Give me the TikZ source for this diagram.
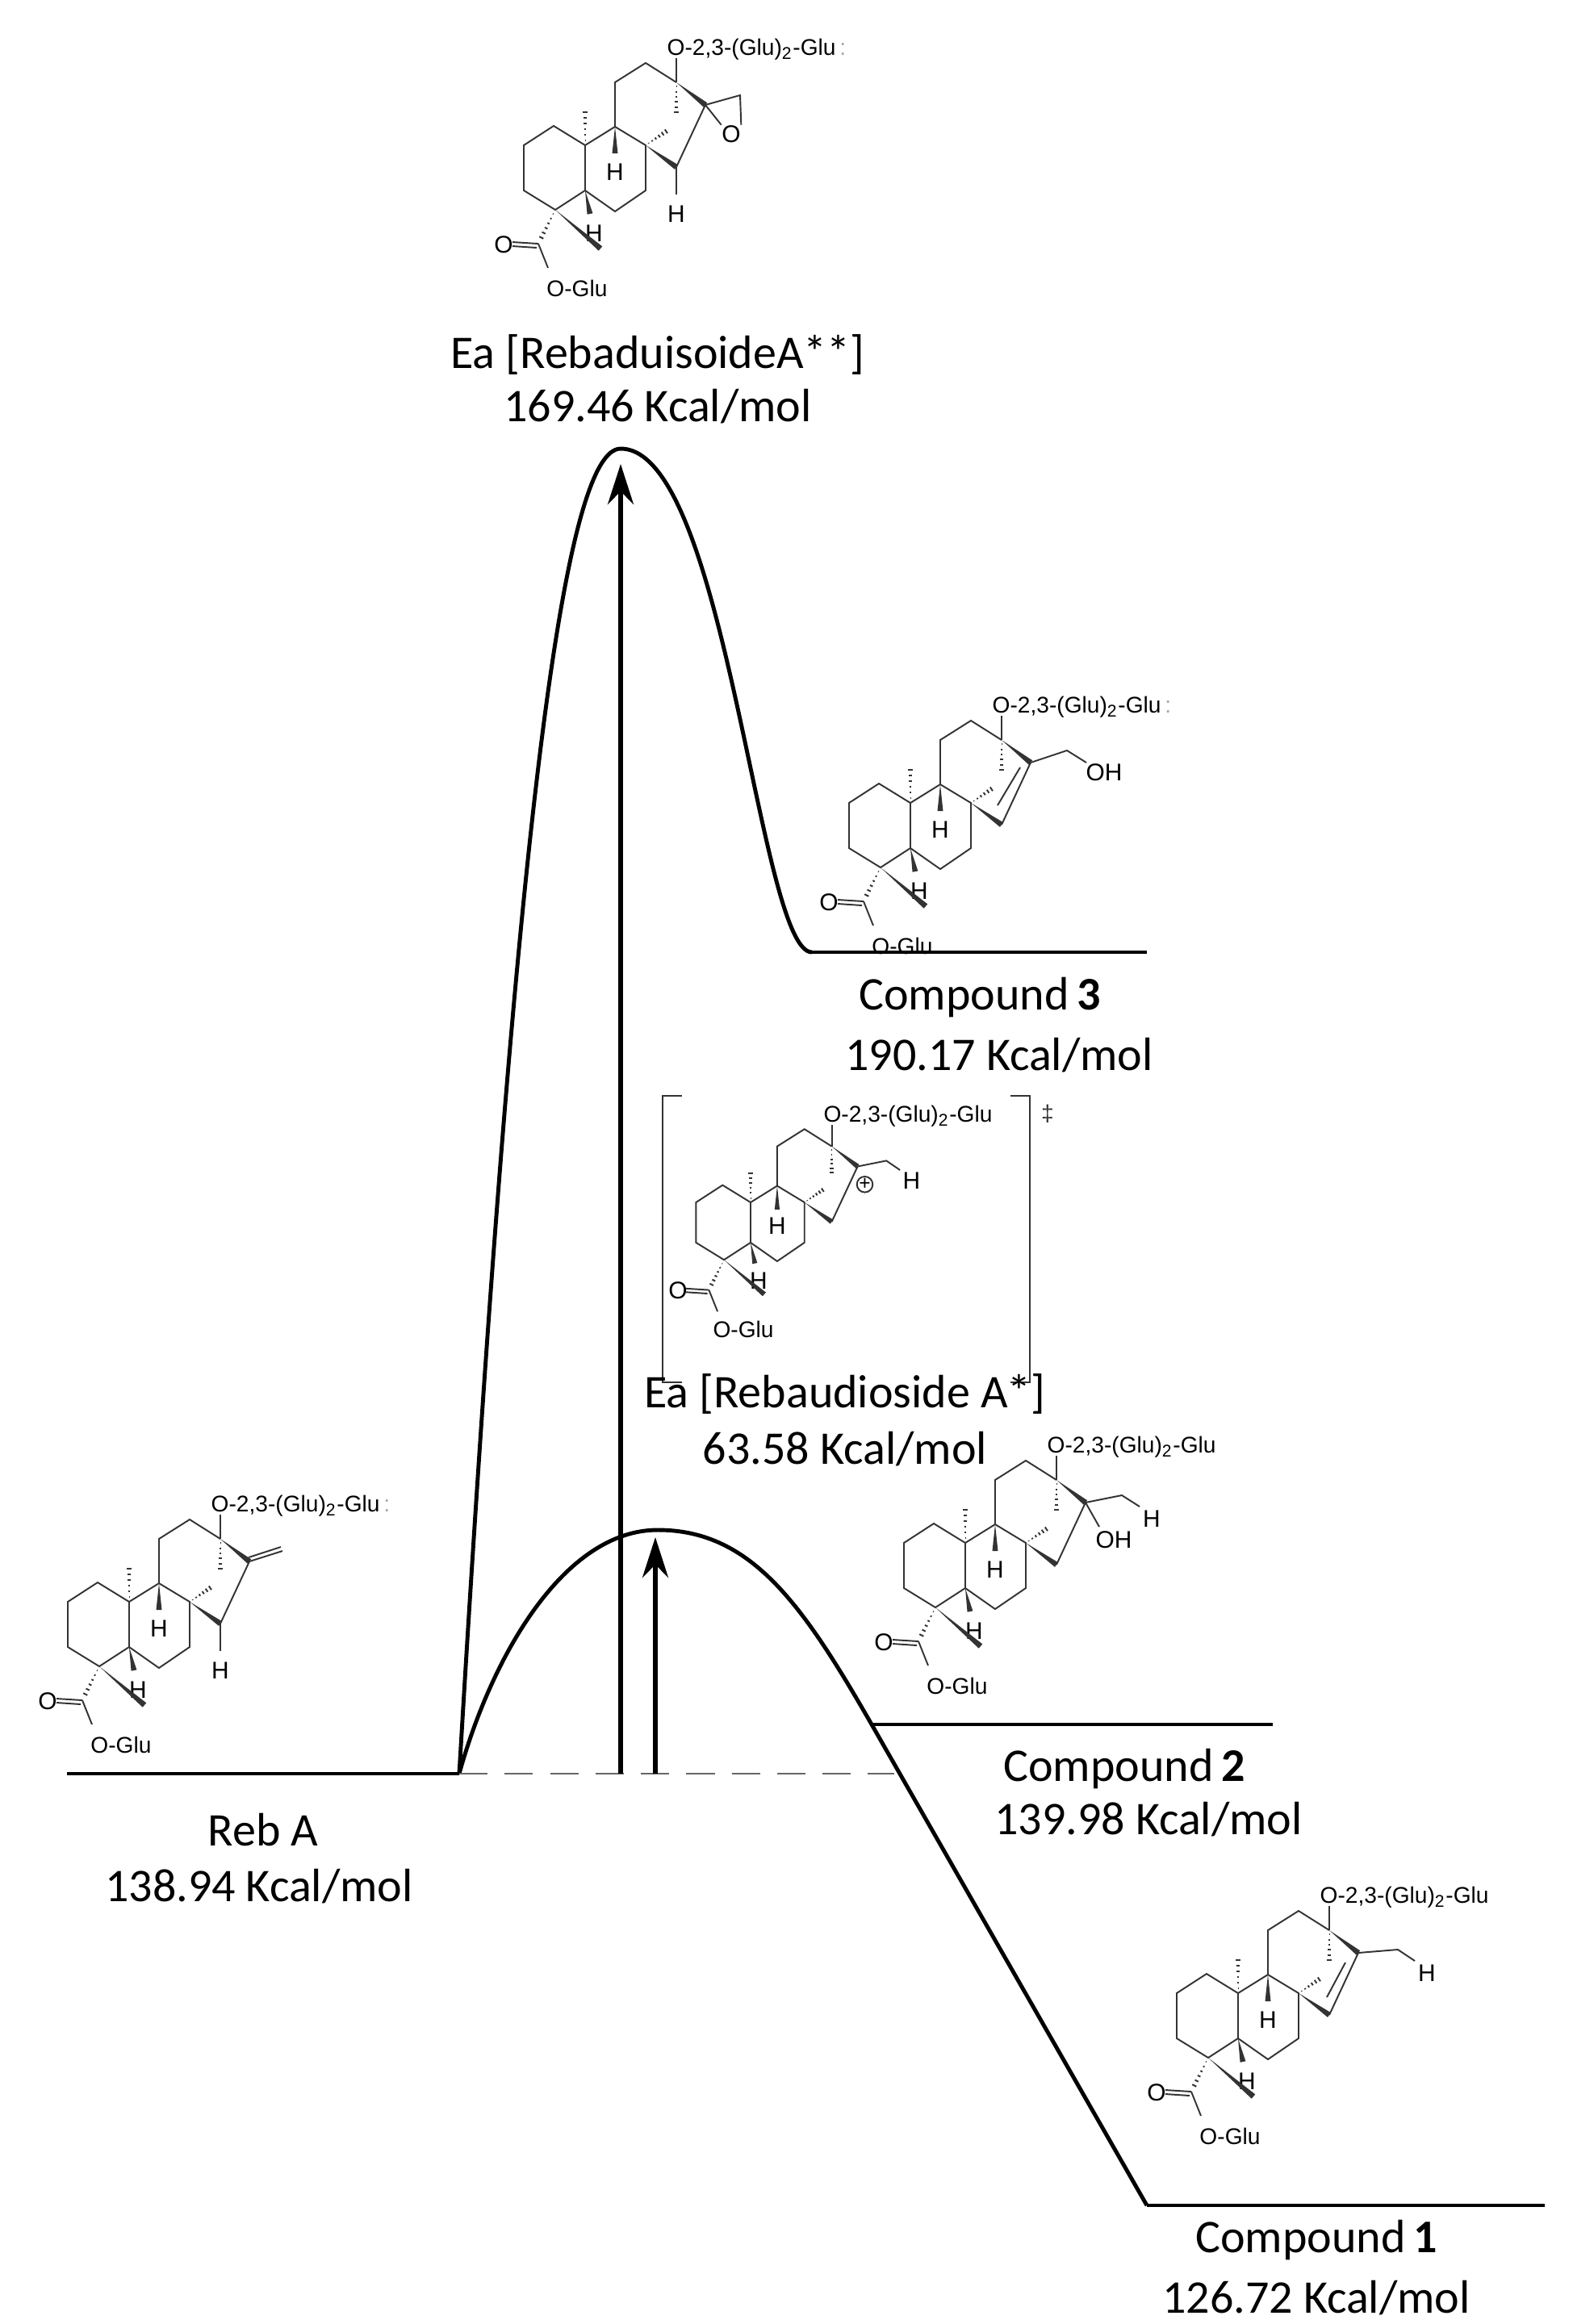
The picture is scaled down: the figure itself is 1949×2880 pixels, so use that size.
\documentclass[tikz,border=0pt]{standalone}
\usepackage{fontspec}
\setmainfont{Carlito}
\newfontfamily\molfont{Liberation Sans}
\usetikzlibrary{calc,arrows.meta}
\definecolor{bondc}{HTML}{333333}
\tikzset{
  bond/.style={draw=bondc,line width=0.55pt},
  atom/.style={font=\molfont\fontsize{8.5}{9}\selectfont,inner sep=0pt,text=black},
  glu/.style={font=\molfont\fontsize{8}{9}\selectfont,inner sep=0pt,text=black},
  lvl/.style={line width=1.4pt},
  curve/.style={line width=1.4pt},
  lab/.style={font=\fontsize{16.5}{18}\selectfont,inner sep=0pt},
  arr/.style={line width=1.6pt,-{Stealth[length=5mm,width=3.2mm]}}
}
\newcommand\wdg[2]{\fill[bondc] (#1) -- ($(#2)!0.035cm!90:(#1)$) -- ($(#2)!0.035cm!-90:(#1)$) -- cycle;}
\newcommand\hsh[2]{\foreach \t in {0.12,0.26,...,0.95}{\draw[bond] ($(#1)!\t!(#2)!{\t*0.035cm}!90:(#2)$) -- ($(#1)!\t!(#2)!{\t*0.035cm}!-90:(#2)$);}}
\newcommand\skel[1]{%
  \coordinate (c10) at (0,0); \coordinate (c1) at (-39,-24); \coordinate (c2) at (-76,0);
  \coordinate (c3) at (-76,56); \coordinate (c4) at (-37,80); \coordinate (c5) at (0,56);
  \coordinate (c9) at (37,-23); \coordinate (c8) at (75,0); \coordinate (c7) at (75,56);
  \coordinate (c6) at (37,82); \coordinate (c11) at (37,-78); \coordinate (c12) at (75,-102);
  \coordinate (c13) at (113,-78); \coordinate (c16) at (149,-50); \coordinate (c15) at (113,27);
  \coordinate (me10) at (0,-50); \coordinate (h9) at (37,10); \coordinate (h5) at (6,85);
  \coordinate (me4) at (19,128); \coordinate (cc) at (-58,122); \coordinate (oo) at (-46,152);
  \coordinate (b13) at (113,-33); \coordinate (b8) at (106,-21); \coordinate (o13) at (113,-108);
  \draw[bond] (c10)--(c1)--(c2)--(c3)--(c4)--(c5)--(c10)--(c9)--(c8)--(c7)--(c6)--(c5);
  \draw[bond] (c9)--(c11)--(c12)--(c13);
  \hsh{c10}{me10}
  \wdg{c9}{h9} \node[atom] (hh9) at (37,33) {H};
  \wdg{c5}{h5} \node[atom] (hh5) at (11,109) {H};
  \wdg{c4}{me4}
  \hsh{c4}{cc}
  \draw[bond] (cc) -- (-90,120);
  \draw[bond] ($(cc)+(-2,5)$) -- (-90,125);
  \node[atom] (ocarb) at (-101,123) {O};
  \draw[bond] (cc) -- (oo);
  \node[glu] (oglu) at (-10,177) {O-Glu};
  \hsh{c13}{b13} \hsh{c8}{b8}
  \wdg{c13}{c16} \wdg{c8}{c15}
  \draw[bond] (c15) -- (c16);
  \draw[bond] (c13) -- (o13);
  \node[glu,anchor=base west] (gl) at (101,-112) {O-2,3-(Glu)\textsubscript{2}-Glu#1};
}
\newcommand\dotc{\textcolor{gray!70}{\,:}}
\begin{document}
\begin{tikzpicture}[x=0.01cm,y=-0.01cm]
\useasboundingbox (0,0) rectangle (1949,2880);

% ---- Reb A
\begin{scope}[shift={(160,1985)}]
  \skel{\dotc}
  \draw[bond] (c16) -- (190,-63);
  \draw[bond] ($(c16)+(-1,-5)$) -- (188,-68);
  \draw[bond] (c15) -- (113,61); \node[atom] (h15) at (113,85) {H};
\end{scope}
% ---- Top (epoxide)
\begin{scope}[shift={(725,180)}]
  \skel{\dotc}
  \coordinate (ep) at (192,-62); \node[atom] (epo) at (181,-14) {O};
  \draw[bond] (c16) -- (ep) -- (epo.north east);
  \draw[bond] (c16) -- (epo.north west);
  \draw[bond] (c15) -- (113,61); \node[atom] (h15) at (113,85) {H};
\end{scope}
% ---- Compound 3
\begin{scope}[shift={(1128,995)}]
  \skel{\dotc}
  \draw[bond] (108,3) -- (136,-44);
  \draw[bond] (c16) -- (194,-65) -- (218,-50);
  \node[atom,anchor=west] (oh3) at (217,-38) {OH};
\end{scope}
% ---- TS
\begin{scope}[shift={(930,1490)},scale=0.89]
  \skel{}
  \draw[bond] (c16) -- (189,-58) -- (208,-45);
  \node[atom] (hts) at (224,-30) {H};
  \draw[bond] (159,-25) circle (11);
  \node[atom,font=\molfont\fontsize{7}{8}\selectfont] (plus) at (159,-25) {+};
\end{scope}
\draw[bond,line width=0.8pt] (845,1358) -- (821,1358) -- (821,1713) -- (845,1713);
\draw[bond,line width=0.8pt] (1252,1358) -- (1276,1358) -- (1276,1713) -- (1252,1713);
\node[glu,text=bondc] (dag) at (1298,1380) {‡};
% ---- Compound 2
\begin{scope}[shift={(1196,1912)}]
  \skel{}
  \draw[bond] (c16) -- (194,-59) -- (216,-45);
  \node[atom] (h2) at (231,-30) {H};
  \draw[bond] (c16) -- (166,-20);
  \node[atom] (oh2) at (184,-4) {OH};
\end{scope}
% ---- Compound 1
\begin{scope}[shift={(1534,2470)}]
  \skel{}
  \draw[bond] (110,5) -- (133,-38);
  \draw[bond] (c16) -- (198,-54) -- (219,-40);
  \node[atom] (h1) at (234,-25) {H};
\end{scope}

% ---- energy diagram
\coordinate (ra0) at (83,2198); \coordinate (ra1) at (569,2198);
\coordinate (pk) at (769,556); \coordinate (c3a) at (1006,1180); \coordinate (c3b) at (1421,1180);
\coordinate (ts) at (815,1896); \coordinate (c2a) at (1080,2137); \coordinate (c2b) at (1577,2137);
\coordinate (c1a) at (1421,2733); \coordinate (c1b) at (1914,2733);
\coordinate (dsh) at (1108,2198);
\draw[lvl] (ra0) -- (ra1);
\draw[lvl] (c3a) -- (c3b);
\draw[lvl] (c2a) -- (c2b);
\draw[lvl] (c1a) -- (c1b);
\draw[curve] (ra1) .. controls (640,1000) and (700,556) .. (pk)
  .. controls (900,556) and (940,1180) .. (c3a);
\draw[curve] (ra1) .. controls (610,2050) and (700,1896) .. (ts)
  .. controls (930,1896) and (994,1987) .. (c2a) -- (c1a);
\draw[dashed,line width=0.8pt,dash pattern=on 10pt off 6pt,gray!80!black] (ra1) -- (dsh);
\coordinate (a1s) at (769,2198); \coordinate (a1e) at (769,575);
\coordinate (a2s) at (812,2198); \coordinate (a2e) at (812,1905);
\draw[arr] (a1s) -- (a1e);
\draw[arr] (a2s) -- (a2e);

% ---- labels
\node[lab] (l1) at (815,439) {Ea [RebaduisoideA**]};
\node[lab] (l1e) at (815,504) {169.46 Kcal/mol};
\node[lab] (l3) at (1214,1236) {Compound\,\textbf{3}};
\node[lab] (l3e) at (1238,1308) {190.17 Kcal/mol};
\node[lab] (lt) at (1047,1727) {Ea [Rebaudioside A*]};
\node[lab] (lte) at (1047,1796) {63.58 Kcal/mol};
\node[lab] (lr) at (326,2268) {Reb A};
\node[lab] (lre) at (321,2338) {138.94 Kcal/mol};
\node[lab] (l2) at (1393,2192) {Compound\,\textbf{2}};
\node[lab] (l2e) at (1423,2255) {139.98 Kcal/mol};
\node[lab] (lc1) at (1631,2776) {Compound\,\textbf{1}};
\node[lab] (lc1e) at (1631,2848) {126.72 Kcal/mol};
\end{tikzpicture}
\end{document}
